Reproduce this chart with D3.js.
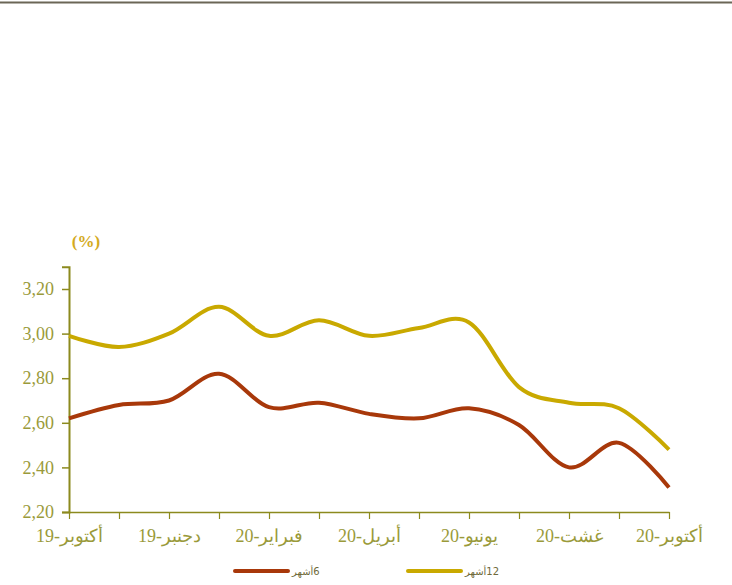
<!DOCTYPE html>
<html>
<head>
<meta charset="utf-8">
<script src="https://cdn.jsdelivr.net/npm/d3@7"></script>
<style>
  body { margin: 0; background: #fff; }
  svg { display: block; }
</style>
</head>
<body>
<svg id="chart" width="732" height="585"></svg>
<script>
// months Oct-19 .. Oct-20, labels only every other month
const months = ["أكتوبر-19","نونبر-19","دجنبر-19","يناير-20","فبراير-20","مارس-20","أبريل-20","ماي-20","يونيو-20","يوليوز-20","غشت-20","شتنبر-20","أكتوبر-20"];
const shownLabels = ["أكتوبر-19","دجنبر-19","فبراير-20","20-أبريل","يونيو-20","غشت-20","أكتوبر-20"];
const sixMonths = [2.62, 2.68, 2.70, 2.82, 2.67, 2.69, 2.64, 2.62, 2.665, 2.59, 2.40, 2.51, 2.31];
const twelveMonths = [2.99, 2.94, 3.00, 3.12, 2.99, 3.06, 2.99, 3.025, 3.05, 2.76, 2.69, 2.665, 2.48];
const yTicks = [2.2, 2.4, 2.6, 2.8, 3.0, 3.2];
const seriesNames = ["6أشهر", "12أشهر"];

const olive = "#8c8a1e";
const textOlive = "#9a9a3a";
const colRed = "#a8380a";
const colGold = "#c9a900";

const svg = d3.select("#chart");

// rule at the top of the page
svg.append("line")
  .attr("x1", 0).attr("x2", 732)
  .attr("y1", 2.5).attr("y2", 2.5)
  .attr("stroke", "#6b6656").attr("stroke-width", 2);

const x = d3.scaleLinear().domain([0, months.length - 1]).range([69, 669]);
const y = d3.scaleLinear().domain([2.2, 3.3]).range([512, 266.7]);

const fmt = d => d3.format(".2f")(d).replace(".", ",");

// y axis
const gy = svg.append("g").attr("transform", "translate(69,0)")
  .call(d3.axisLeft(y).tickValues(yTicks).tickFormat(fmt).tickSize(7).tickPadding(8));
gy.select(".domain").attr("stroke", olive).attr("stroke-width", 2);
gy.selectAll(".tick line").attr("stroke", olive).attr("stroke-width", 1.5);
gy.selectAll(".tick text")
  .attr("fill", textOlive)
  .style("font-family", "'Liberation Serif', 'DejaVu Serif', serif")
  .style("font-size", "18px");

// x axis
const gx = svg.append("g").attr("transform", "translate(0,512)")
  .call(d3.axisBottom(x).tickValues(d3.range(months.length))
    .tickFormat(i => i % 2 === 0 ? shownLabels[i / 2] : "").tickSize(7).tickSizeOuter(0).tickPadding(10));
gx.select(".domain").attr("stroke", olive).attr("stroke-width", 1.5);
gx.selectAll(".tick line").attr("stroke", olive).attr("stroke-width", 1.2);
gx.selectAll(".tick text")
  .attr("fill", textOlive)
  .style("font-family", "'Liberation Serif', 'DejaVu Serif', serif")
  .style("font-size", "18px");

svg.append("text")
  .attr("x", 86).attr("y", 247)
  .attr("text-anchor", "middle")
  .attr("fill", "#d4aa1e")
  .style("font-family", "'Liberation Serif', serif")
  .style("font-size", "17px")
  .style("font-weight", "bold")
  .text("(%)");

const line = d3.line()
  .x((d, i) => x(i))
  .y(d => y(d))
  .curve(d3.curveCardinal.tension(0));

[[twelveMonths, colGold], [sixMonths, colRed]].forEach(([vals, c]) => {
  svg.append("path")
    .datum(vals)
    .attr("d", line)
    .attr("fill", "none")
    .attr("stroke", c)
    .attr("stroke-width", 4)
    .attr("stroke-linejoin", "round");
});

// legend
const legend = [
  { name: seriesNames[0], color: colRed, x: 235 },
  { name: seriesNames[1], color: colGold, x: 408 }
];
const lg = svg.append("g").selectAll("g").data(legend).join("g")
  .attr("transform", d => `translate(${d.x},571)`);
lg.append("line")
  .attr("x1", 0).attr("x2", 53)
  .attr("stroke", d => d.color).attr("stroke-width", 4)
  .attr("stroke-linecap", "round");
lg.append("text")
  .attr("x", 57).attr("y", 4)
  .attr("direction", "rtl")
  .attr("text-anchor", "end")
  .attr("fill", "#6f6a3a")
  .style("font-family", "'DejaVu Sans', sans-serif")
  .style("font-size", "10px")
  .text(d => d.name);
</script>
</body>
</html>
